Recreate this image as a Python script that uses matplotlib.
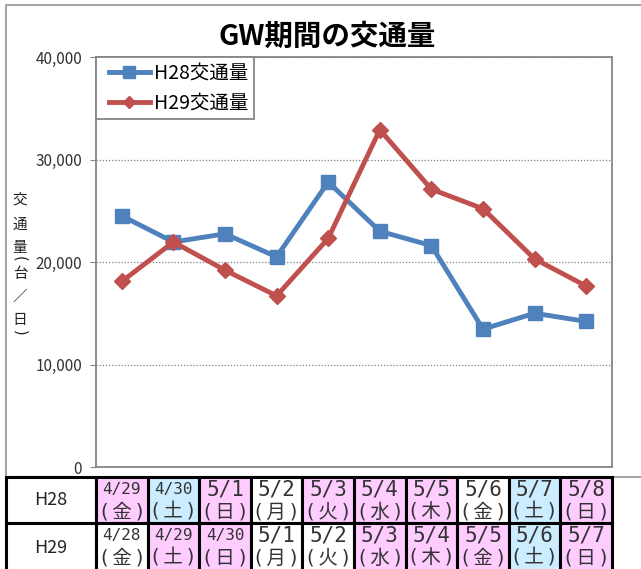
import matplotlib
matplotlib.use("Agg")
import matplotlib.pyplot as plt
from matplotlib.patches import Rectangle
from matplotlib.ticker import FuncFormatter
from matplotlib.legend_handler import HandlerLine2D

plt.rcParams["font.family"] = ["Noto Sans CJK JP", "DejaVu Sans"]

# --- data ---
h28_vol = [24500, 21950, 22750, 20500, 27800, 23000, 21600, 13450, 15000, 14200]
h29_vol = [18100, 21950, 19200, 16700, 22300, 32900, 27100, 25200, 20300, 17650]
h28_dates = ["4/29", "4/30", "5/1", "5/2", "5/3", "5/4", "5/5", "5/6", "5/7", "5/8"]
h28_dows = ["金", "土", "日", "月", "火", "水", "木", "金", "土", "日"]
h28_kind = ["hol", "sat", "hol", "wd", "hol", "hol", "hol", "wd", "sat", "hol"]
h29_dates = ["4/28", "4/29", "4/30", "5/1", "5/2", "5/3", "5/4", "5/5", "5/6", "5/7"]
h29_dows = ["金", "土", "日", "月", "火", "水", "木", "金", "土", "日"]
h29_kind = ["wd", "hol", "hol", "wd", "wd", "hol", "hol", "hol", "sat", "hol"]
series_names = ["H28交通量", "H29交通量"]
row_names = ["H28", "H29"]

BLUE = "#4F81BD"
RED = "#C0504D"
KIND_COL = {"hol": "#FFCCFF", "sat": "#CCECFF", "wd": "#FFFFFF"}

W, H = 641, 569
fig = plt.figure(figsize=(W / 100, H / 100), dpi=100)

# plot area in pixels
px0, px1, py0, py1 = 96, 612, 57, 467
ax = fig.add_axes([px0 / W, 1 - py1 / H, (px1 - px0) / W, (py1 - py0) / H])

x = list(range(len(h28_vol)))
ax.plot(x, h28_vol, "-s", color=BLUE, lw=3.5, ms=10, label=series_names[0], zorder=3)
ax.plot(x, h29_vol, "-D", color=RED, lw=3.5, ms=8, label=series_names[1], zorder=3)

ax.set_xlim(-0.5, len(x) - 0.5)
ax.set_ylim(0, 40000)
ax.set_yticks(range(0, 40001, 10000))
ax.yaxis.set_major_formatter(FuncFormatter(lambda v, p: f"{int(v):,}"))
ax.set_xticks([])
ax.tick_params(axis="y", length=4, width=0.8, color="#868686", labelsize=11,
               labelcolor="#333333", pad=6)
ax.grid(True, axis="y", color="#808080", lw=0.9, linestyle=(0, (1, 1.5)))
for s in ax.spines.values():
    s.set_color("#868686")
    s.set_linewidth(1.3)

# legend: handle line inset from the box edge (xpad)
hl = HandlerLine2D(xpad=0.36)
leg = ax.legend(loc="upper left", bbox_to_anchor=(0, 1), borderaxespad=0,
                fontsize=14, handlelength=2.47, handletextpad=0.2, fancybox=False,
                framealpha=1, borderpad=0.3, labelspacing=0.44, markerscale=0.8,
                handler_map={plt.Line2D: hl})
leg.get_frame().set_edgecolor("#868686")
leg.get_frame().set_linewidth(1.3)

# title
fig.text(327 / W, 1 - 37 / H, "GW期間の交通量", ha="center", va="center",
         fontsize=20.5, fontweight="bold")

# vertical y label, one glyph per position
ylab = [("交", 200, 0), ("通", 225, 0), ("量", 248, 0), ("(", 259, -90),
        ("台", 274, 0), ("／", 297, 0), ("日", 320, 0), (")", 333, -90)]
for ch, yp, rot in ylab:
    fig.text(20 / W, 1 - yp / H, ch, ha="center", va="center", rotation=rot,
             rotation_mode="anchor", fontsize=10.5, color="#222222",
             family=["DejaVu Sans"] if ch in "()" else None)

# outer chart frame
fig.add_artist(Rectangle((6 / W, 1 - 477 / H), 700 / W, (477 - 5) / H,
                         transform=fig.transFigure, fill=False,
                         edgecolor="#A6A6A6", lw=1.5, zorder=0))

# date table under the chart: x in category units, y in axes units
trans = ax.get_xaxis_transform()


def ya(p):
    return (py1 - p) / (py1 - py0)


row_edges = [477, 523, 573]
xl = -0.5 - (px0 - 6) * len(x) / (px1 - px0)
rows = [(row_names[0], h28_dates, h28_dows, h28_kind),
        (row_names[1], h29_dates, h29_dows, h29_kind)]
for r, (name, dates, dows, kinds) in enumerate(rows):
    top, bot = row_edges[r], row_edges[r + 1]
    ax.add_patch(Rectangle((xl, ya(bot)), -0.5 - xl, ya(top) - ya(bot),
                           transform=trans, clip_on=False, fc="white",
                           ec="black", lw=2.2, zorder=5))
    ax.text((xl - 0.5) / 2, ya((top + bot) / 2), name, transform=trans,
            ha="center", va="center", fontsize=13, color="#222222", zorder=6)
    for i, (d, w, k) in enumerate(zip(dates, dows, kinds)):
        ax.add_patch(Rectangle((i - 0.5, ya(bot)), 1, ya(top) - ya(bot),
                               transform=trans, clip_on=False, fc=KIND_COL[k],
                               ec="black", lw=2.2, zorder=5))
        ax.text(i, ya(top + 12.5), d, transform=trans, ha="center", va="center",
                fontsize=11.5 if len(d) > 3 else 15, family="DejaVu Sans Mono",
                color="#333333", zorder=6, clip_on=False)
        ax.text(i, ya(top + 35), f"(\u2009{w}\u2009)", transform=trans,
                ha="center", va="center", fontsize=14, color="#333333", zorder=6,
                family=["DejaVu Sans", "Noto Sans CJK JP"], clip_on=False)

fig.savefig("out.png", dpi=100)
